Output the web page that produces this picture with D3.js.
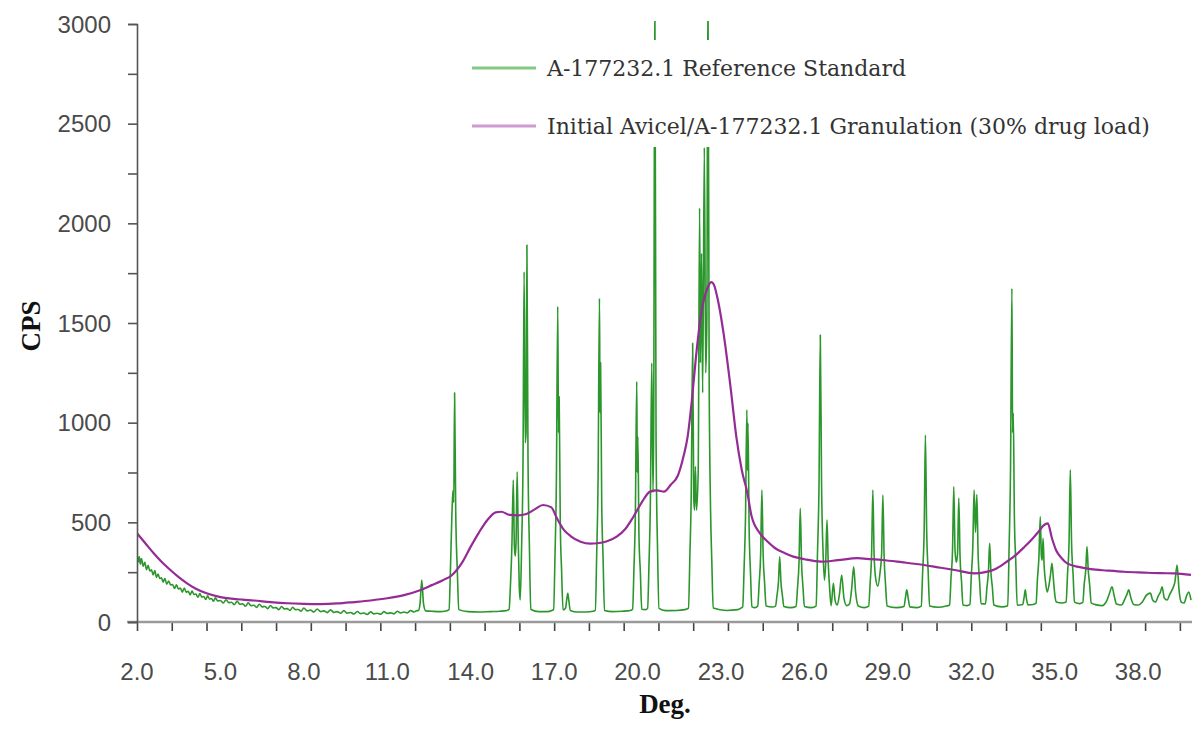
<!DOCTYPE html>
<html>
<head>
<meta charset="utf-8">
<script src="https://cdn.jsdelivr.net/npm/d3@7"></script>
<style>
  html, body { margin: 0; padding: 0; background: #fff; }
  svg { display: block; }
</style>
</head>
<body>
<svg id="chart" width="1201" height="735"></svg>
<script>
// X-ray powder diffraction patterns: 2-theta (deg) vs counts per second

const seriesNames = [
  "A-177232.1 Reference Standard",
  "Initial Avicel/A-177232.1 Granulation (30% drug load)"
];

// Reference standard pattern, [deg, cps]
const referenceStandard = [
  [2.0,340],[2.04,300],[2.08,328],[2.12,290],[2.16,318],[2.22,280],[2.28,300],[2.34,262],[2.4,284],[2.46,256],
  [2.52,262],[2.58,236],[2.64,258],[2.7,224],[2.76,240],[2.82,218],[2.88,222],[2.94,200],[3.0,218],[3.07,190],
  [3.14,206],[3.21,186],[3.28,188],[3.35,168],[3.42,186],[3.49,166],[3.56,170],[3.63,150],[3.7,170],[3.77,150],
  [3.84,154],[3.91,136],[3.98,155],[4.05,138],[4.12,140],[4.19,124],[4.26,143],[4.33,125],[4.4,128],[4.47,113],
  [4.54,131],[4.61,115],[4.68,118],[4.75,104],[4.82,121],[4.9,106],[5.0,108],[5.1,95],[5.2,112],[5.3,97],
  [5.4,99],[5.5,87],[5.6,104],[5.7,89],[5.8,91],[5.9,79],[6.0,96],[6.1,82],[6.2,84],[6.3,73],
  [6.4,89],[6.5,76],[6.6,78],[6.7,67],[6.8,83],[6.9,71],[7.0,72],[7.1,62],[7.2,78],[7.3,66],
  [7.4,67],[7.5,58],[7.6,74],[7.7,62],[7.8,63],[7.9,54],[8.0,70],[8.12,56],[8.24,60],[8.36,50],
  [8.48,65],[8.6,52],[8.72,56],[8.84,47],[8.96,61],[9.08,48],[9.2,52],[9.32,44],[9.44,57],[9.56,44],
  [9.68,48],[9.8,40],[9.92,53],[10.04,42],[10.16,45],[10.28,38],[10.4,51],[10.52,41],[10.64,44],[10.76,39],
  [10.88,52],[11.0,43],[11.12,46],[11.24,41],[11.36,54],[11.48,46],[11.6,50],[11.72,46],[11.84,58],[11.96,50],
  [12.05,56],
  [12.12,58],[12.18,95],[12.24,211],[12.3,95],[12.38,56],
  [12.6,54],[12.9,52],[13.1,55],
  [13.22,62],[13.27,260],[13.32,520],[13.36,660],[13.39,600],[13.42,1150],[13.46,560],[13.52,250],[13.57,62],
  [13.9,52],[14.3,50],[14.7,52],[15.05,54],[15.3,58],
  [15.38,64],[15.43,190],[15.48,380],[15.53,712],[15.57,380],[15.6,330],[15.63,400],[15.67,754],[15.71,400],
  [15.745,180],[15.78,110],[15.83,380],[15.88,800],[15.92,1757],[15.96,900],[15.99,950],[16.02,1891],
  [16.06,820],[16.11,380],[16.16,64],
  [16.45,52],[16.75,52],[16.92,58],
  [16.98,62],[17.03,330],[17.08,700],[17.13,1582],[17.155,950],[17.18,1130],[17.22,500],[17.27,250],[17.32,60],
  [17.41,70],[17.45,110],[17.49,144],[17.53,105],[17.58,58],
  [17.85,50],[18.15,50],[18.4,54],
  [18.48,58],[18.53,340],[18.58,720],[18.63,1624],[18.65,1050],[18.67,1300],[18.71,600],[18.76,320],[18.81,58],
  [19.1,52],[19.45,54],[19.74,58],
  [19.82,64],[19.87,270],[19.92,540],[19.97,1206],[19.99,750],[20.01,930],[20.05,430],[20.1,250],[20.15,64],
  [20.28,62],
  [20.36,68],[20.41,290],[20.46,600],[20.51,1299],[20.555,650],[20.58,1000],[20.62,3200],[20.665,900],
  [20.72,350],[20.77,68],
  [21.0,57],[21.4,58],[21.7,62],
  [21.83,70],[21.88,330],[21.93,650],[21.98,1398],[22.02,620],[22.05,560],[22.08,780],[22.12,560],[22.18,760],
  [22.23,2077],[22.26,1300],[22.3,1850],[22.34,1150],[22.4,2380],[22.45,1250],[22.49,1500],[22.53,3200],
  [22.575,1200],[22.62,600],[22.67,300],[22.72,70],
  [23.2,58],[23.6,62],[23.72,70],
  [23.78,76],[23.83,270],[23.88,520],[23.93,1064],[23.95,760],[23.97,998],[24.01,480],[24.06,250],[24.11,76],
  [24.22,72],
  [24.32,80],[24.37,190],[24.425,340],[24.47,662],[24.515,340],[24.57,190],[24.62,80],
  [24.85,75],
  [24.96,80],[25.01,130],[25.065,200],[25.11,328],[25.155,200],[25.21,130],[25.26,78],
  [25.5,72],
  [25.7,78],[25.75,170],[25.805,300],[25.85,570],[25.895,300],[25.95,170],[26.0,78],
  [26.25,72],
  [26.42,80],[26.47,350],[26.525,700],[26.57,1440],[26.615,700],[26.67,350],[26.72,210],[26.765,300],
  [26.81,512],[26.855,300],[26.91,160],[26.96,82],
  [27.04,194],[27.1,110],[27.18,85],[27.26,140],[27.34,236],[27.42,120],[27.52,82],[27.62,90],[27.7,170],
  [27.77,277],[27.84,150],[27.94,80],
  [28.15,72],
  [28.31,80],[28.36,190],[28.415,340],[28.46,662],[28.505,340],[28.56,220],[28.64,180],[28.72,250],
  [28.775,340],[28.82,637],[28.865,330],[28.92,180],[28.97,80],
  [29.3,72],
  [29.58,78],[29.63,120],[29.68,161],[29.73,120],[29.79,76],
  [30.05,72],
  [30.2,80],[30.25,250],[30.305,460],[30.35,938],[30.395,460],[30.45,250],[30.5,80],
  [30.8,74],[31.1,80],
  [31.22,85],[31.27,220],[31.325,360],[31.37,679],[31.415,360],[31.46,300],[31.505,340],[31.55,622],
  [31.595,330],[31.65,200],[31.7,85],
  [31.85,82],
  [31.95,88],[32.0,230],[32.055,380],[32.1,662],[32.15,450],[32.2,640],[32.245,340],[32.3,200],[32.35,92],
  [32.51,90],[32.56,170],[32.615,250],[32.66,395],[32.705,250],[32.76,170],[32.81,85],
  [33.1,76],
  [33.31,82],[33.36,380],[33.41,760],[33.46,1674],[33.485,950],[33.51,1048],[33.55,520],[33.6,300],[33.65,84],
  [33.85,88],[33.9,125],[33.94,161],[33.98,120],[34.04,86],
  [34.22,88],
  [34.33,95],[34.38,220],[34.43,320],[34.48,528],[34.52,330],[34.55,310],[34.58,420],[34.62,280],[34.67,200],
  [34.73,150],[34.8,190],[34.85,240],[34.9,294],[34.95,220],[35.0,140],[35.06,100],
  [35.25,95],
  [35.41,100],[35.46,240],[35.515,400],[35.56,763],[35.605,400],[35.66,240],[35.71,100],
  [35.9,92],
  [36.01,98],[36.06,190],[36.115,260],[36.16,378],[36.205,260],[36.26,180],[36.31,96],
  [36.5,86],[36.7,82],
  [36.88,110],[36.96,140],[37.06,177],[37.14,130],[37.22,90],[37.4,85],[37.52,115],[37.6,140],[37.66,161],
  [37.74,120],[37.84,88],[38.0,85],[38.15,100],[38.3,135],[38.44,145],[38.52,110],[38.62,100],[38.72,130],
  [38.8,150],[38.86,177],[38.94,120],[39.04,110],[39.14,140],[39.25,170],[39.32,200],[39.4,286],[39.47,160],
  [39.55,100],[39.65,95],[39.75,135],[39.82,150],[39.9,110]
];

// Granulation pattern, [deg, cps]
const granulation = [
  [2.0,445],[2.3,395],[2.6,345],[2.9,300],[3.2,261],[3.5,225],[3.8,194],[4.1,168],[4.5,144],[5.0,125],
  [5.4,117],[5.8,112],[6.2,108],[6.8,100],[7.4,94],[8.0,91],[8.6,90],[9.2,93],[9.8,100],[10.4,108],
  [11.0,119],[11.6,135],[12.2,161],[12.6,185],[13.0,210],[13.3,232],[13.7,300],[14.0,378],[14.3,450],
  [14.6,512],[14.9,550],[15.1,553],[15.4,537],[15.7,535],[16.0,542],[16.3,565],[16.6,587],[16.9,575],
  [17.1,520],[17.35,462],[17.6,430],[17.95,403],[18.3,393],[18.55,395],[18.9,405],[19.25,428],[19.55,465],
  [19.85,528],[20.15,600],[20.45,654],[20.7,660],[20.95,654],[21.2,690],[21.45,735],[21.65,830],[21.8,930],
  [21.95,1110],[22.1,1330],[22.3,1560],[22.5,1670],[22.65,1705],[22.75,1690],[22.88,1620],[23.0,1530],
  [23.1,1440],[23.35,1170],[23.55,930],[23.75,760],[23.95,646],[24.1,530],[24.4,445],[24.7,400],[24.95,370],
  [25.3,345],[25.6,328],[26.0,315],[26.6,303],[27.2,310],[27.9,320],[28.4,315],[28.8,311],[29.5,300],
  [30.3,286],[30.9,272],[31.4,261],[32.1,244],[32.5,250],[32.85,265],[33.2,295],[33.55,330],[33.9,375],
  [34.15,410],[34.4,450],[34.6,485],[34.75,495],[34.9,420],[35.05,360],[35.25,320],[35.45,294],[35.9,275],
  [36.3,265],[36.9,258],[37.5,252],[38.2,248],[38.8,245],[39.3,244],[39.9,236]
];

// Axis ticks
const xLabelValues = [2, 5, 8, 11, 14, 17, 20, 23, 26, 29, 32, 35, 38];
const xMinorStep = 1.25;
const yLabelValues = [0, 500, 1000, 1500, 2000, 2500, 3000];
const yMinorStep = 250;

const colors = { ref: "#2b962b", gran: "#952b95", refKey: "#86c986", granKey: "#cf9acf" };

const svg = d3.select("#chart");

const x = d3.scaleLinear().domain([2, 39.9]).range([137, 1191]);
const y = d3.scaleLinear().domain([0, 3000]).range([622, 24]);

// clip traces to the plotting area
svg.append("defs").append("clipPath").attr("id", "plotClip")
  .append("rect")
  .attr("x", x(2)).attr("y", 21)
  .attr("width", x(39.9) - x(2) + 2).attr("height", y(0) - 21);

const line = d3.line()
  .x(d => x(d[0]))
  .y(d => y(d[1]))
  .curve(d3.curveMonotoneX);

const traces = svg.append("g").attr("clip-path", "url(#plotClip)");

traces.append("path")
  .datum(referenceStandard)
  .attr("fill", "none")
  .attr("stroke", colors.ref)
  .attr("stroke-width", 1.6)
  .attr("stroke-linejoin", "round")
  .attr("d", line);

traces.append("path")
  .datum(granulation)
  .attr("fill", "none")
  .attr("stroke", colors.gran)
  .attr("stroke-width", 2.2)
  .attr("stroke-linejoin", "round")
  .attr("d", line);

// x axis: long grey baseline, minor ticks every 1.25 deg, labels every 3 deg
const xTicks = d3.range(2, 39.9 + 1e-9, xMinorStep);
const xAxis = d3.axisBottom(x)
  .tickValues(xTicks)
  .tickSize(9)
  .tickFormat("");
const gx = svg.append("g").attr("transform", `translate(0,${y(0)})`).call(xAxis);
gx.select(".domain").remove();
gx.selectAll(".tick line").attr("stroke", "#444").attr("stroke-width", 1.6);

svg.append("line")
  .attr("x1", 127).attr("x2", x(39.9) + 1)
  .attr("y1", y(0)).attr("y2", y(0))
  .attr("stroke", "#9a9a9a").attr("stroke-width", 2.6);

svg.append("g").selectAll("text")
  .data(xLabelValues)
  .join("text")
  .attr("x", d => x(d))
  .attr("y", 680)
  .attr("text-anchor", "middle")
  .attr("font-family", "Liberation Sans, Arial, sans-serif")
  .attr("font-size", 24)
  .attr("fill", "#4a4a4a")
  .text(d => d3.format(".1f")(d));

// y axis
const yTicks = d3.range(0, 3000 + 1, yMinorStep);
const yAxis = d3.axisLeft(y)
  .tickValues(yTicks)
  .tickSize(9)
  .tickFormat("");
const gy = svg.append("g").attr("transform", `translate(${x(2)},0)`).call(yAxis);
gy.select(".domain").attr("stroke", "#555").attr("stroke-width", 1.6);
gy.selectAll(".tick line").attr("stroke", "#555").attr("stroke-width", 1.6);

svg.append("g").selectAll("text")
  .data(yLabelValues)
  .join("text")
  .attr("x", 111)
  .attr("y", d => y(d))
  .attr("dy", "0.36em")
  .attr("text-anchor", "end")
  .attr("font-family", "Liberation Sans, Arial, sans-serif")
  .attr("font-size", 24)
  .attr("fill", "#4a4a4a")
  .text(d => d);

// axis titles
svg.append("text")
  .attr("transform", "translate(31,326) rotate(-90)")
  .attr("text-anchor", "middle")
  .attr("dy", "0.35em")
  .attr("font-family", "Liberation Serif, Times New Roman, serif")
  .attr("font-weight", "bold")
  .attr("font-size", 27)
  .attr("fill", "#111")
  .text("CPS");

svg.append("text")
  .attr("x", 665)
  .attr("y", 713)
  .attr("text-anchor", "middle")
  .attr("font-family", "Liberation Serif, Times New Roman, serif")
  .attr("font-weight", "bold")
  .attr("font-size", 27)
  .attr("fill", "#111")
  .text("Deg.");

// legend, on a white panel above the traces
const legend = svg.append("g");
legend.append("rect")
  .attr("x", 458).attr("y", 40)
  .attr("width", 705).attr("height", 107)
  .attr("fill", "#fff");

const legendRows = [
  { name: seriesNames[0], color: colors.refKey, cy: 68 },
  { name: seriesNames[1], color: colors.granKey, cy: 126 }
];
const rows = legend.selectAll("g.row").data(legendRows).join("g").attr("class", "row");
rows.append("line")
  .attr("x1", 472).attr("x2", 536)
  .attr("y1", d => d.cy).attr("y2", d => d.cy)
  .attr("stroke", d => d.color)
  .attr("stroke-width", 3);
rows.append("text")
  .attr("x", 547)
  .attr("y", d => d.cy)
  .attr("dy", "0.36em")
  .attr("font-family", "DejaVu Serif, serif")
  .attr("font-size", 22)
  .attr("fill", "#333")
  .text(d => d.name);
</script>
</body>
</html>
